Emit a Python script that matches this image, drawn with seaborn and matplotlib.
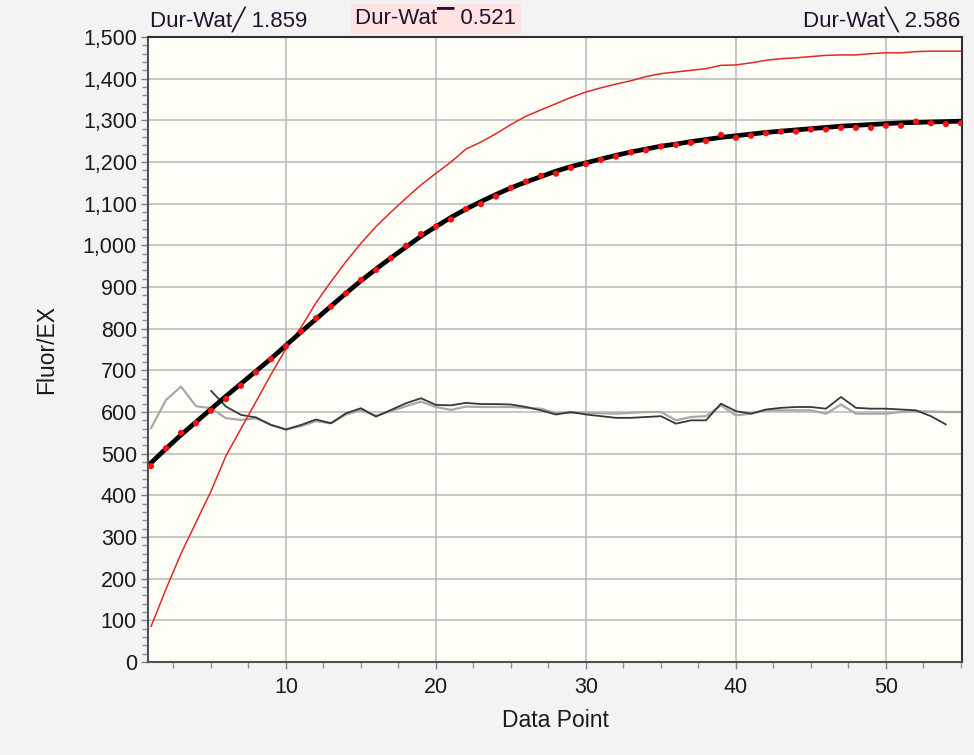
import numpy as np
import pandas as pd
import matplotlib
matplotlib.use("Agg")
import matplotlib.pyplot as plt
import seaborn as sns
from matplotlib.ticker import MultipleLocator, FuncFormatter

# ---- data ----
data_point = list(range(1, 56))

raw_fluor = [470, 513, 550, 573, 603, 631, 663, 695, 727, 758,
             793, 825, 853, 885, 917, 941, 969, 999, 1027, 1045,
             1062, 1087, 1099, 1117, 1138, 1153, 1167, 1172, 1186, 1195,
             1205, 1213, 1223, 1228, 1237, 1241, 1246, 1250, 1265, 1258,
             1263, 1269, 1273, 1273, 1278, 1278, 1282, 1282, 1282, 1287,
             1287, 1297, 1293, 1291, 1293]

fit_fluor = [478, 512, 545, 576, 607, 638, 668, 698, 728, 760,
             792, 823, 854, 885, 915, 943, 970, 996, 1022, 1045,
             1067, 1087, 1105, 1122, 1138, 1152, 1165, 1178, 1189, 1198,
             1207, 1216, 1224, 1231, 1238, 1243, 1249, 1254, 1259, 1263,
             1267, 1271, 1274, 1277, 1280, 1283, 1286, 1288, 1290, 1292,
             1294, 1295, 1296, 1297, 1298]

red_curve = [85, 175, 260, 335, 410, 495, 560, 625, 690, 752,
             803, 862, 913, 961, 1005, 1045, 1080, 1113, 1145, 1173,
             1200, 1231, 1248, 1268, 1290, 1310, 1325, 1340, 1355, 1368,
             1378, 1387, 1395, 1405, 1412, 1416, 1420, 1424, 1432, 1433,
             1438, 1444, 1448, 1450, 1453, 1456, 1457, 1457, 1460, 1462,
             1462, 1465, 1466, 1466, 1466]

light_gray = [561, 629, 661, 614, 609, 585, 581, 585, 569, 558,
              566, 578, 573, 594, 604, 591, 602, 614, 625, 612,
              605, 613, 612, 612, 612, 610, 608, 597, 598, 598,
              597, 596, 598, 600, 600, 580, 588, 590, 616, 592,
              596, 604, 604, 604, 604, 596, 618, 596, 596, 596,
              600, 602, 601, 600, 600]

dark_gray_x = list(range(5, 55))
dark_gray = [651, 613, 593, 587, 569, 558,
             569, 582, 573, 597, 609, 589, 605, 621, 633, 617,
             616, 622, 619, 619, 618, 612, 604, 594, 600, 594,
             590, 586, 586, 588, 590, 572, 580, 580, 620, 602,
             596, 606, 610, 612, 612, 608, 636, 610, 608, 608,
             606, 604, 590, 570]

header_labels = ["Dur-Wat\u2571 1.859", "Dur-Wat\u2594 0.521", "Dur-Wat\u2572 2.586"]

# ---- plot ----
sns.set_theme(style="white")
plt.rcParams['font.family'] = ['Liberation Sans', 'DejaVu Sans']

fig = plt.figure(figsize=(9.74, 7.55), dpi=100)
fig.patch.set_facecolor('#f3f3f3')
ax = fig.add_axes([148/974, 1-662/755, (962-148)/974, (662-37)/755])
ax.set_facecolor('#fffff7')

ax.set_xlim(0.8, 55.07)
ax.set_ylim(0, 1500)

# grid
ax.yaxis.set_major_locator(MultipleLocator(100))
ax.yaxis.set_minor_locator(MultipleLocator(20))
ax.xaxis.set_major_locator(MultipleLocator(10))
ax.xaxis.set_minor_locator(MultipleLocator(2.5))
ax.grid(True, which='major', color='#b8b8b8', linewidth=1.1, zorder=0)
ax.set_axisbelow(True)

sns.lineplot(x=data_point, y=light_gray, ax=ax, color='#a8a8a8', linewidth=1.6, zorder=2)
sns.lineplot(x=dark_gray_x, y=dark_gray, ax=ax, color='#383838', linewidth=1.3, zorder=2)
sns.lineplot(x=data_point, y=red_curve, ax=ax, color='#e02828', linewidth=1.1, zorder=3)
sns.lineplot(x=data_point, y=fit_fluor, ax=ax, color='black', linewidth=3.4, zorder=4)
sns.scatterplot(x=data_point, y=raw_fluor, ax=ax, color='#ff1010', s=20, marker='o',
                edgecolor='none', zorder=5)

ax.yaxis.set_major_formatter(FuncFormatter(lambda v, p: f"{int(v):,}"))
ax.tick_params(axis='both', which='major', direction='out', length=5, width=1,
               color='#808080', labelsize=15.5, labelcolor='#1a1a1a',
               bottom=True, left=True)
ax.tick_params(axis='y', which='major', pad=3)
ax.tick_params(axis='x', which='major', pad=6)
ax.tick_params(axis='both', which='minor', direction='out', length=4, width=1,
               color='#909090', bottom=True, left=True)

for side in ['left', 'bottom']:
    ax.spines[side].set_color('#505050')
    ax.spines[side].set_linewidth(1.5)
for side in ['right', 'top']:
    ax.spines[side].set_color('#303030')
    ax.spines[side].set_linewidth(1.5)

ax.set_xlabel("Data Point", fontsize=16.5, color='#1a1a1a', labelpad=8)
ax.set_ylabel("Fluor/EX", fontsize=16.5, color='#1a1a1a', labelpad=18)

# header labels
fam = ['Liberation Sans', 'DejaVu Sans']
fig.text(150/974, 1-19/755, header_labels[0], fontsize=16, color='#22122e',
         ha='left', va='center', family=fam)
fig.text(355/974, 1-19/755, header_labels[1], fontsize=16, color='#22122e',
         ha='left', va='center', family=fam,
         bbox=dict(boxstyle='square,pad=0.2', facecolor='#ffe2e2', edgecolor='none'))
fig.text(960/974, 1-19/755, header_labels[2], fontsize=16, color='#22122e',
         ha='right', va='center', family=fam)

fig.savefig("out.png", dpi=100, facecolor=fig.get_facecolor())
